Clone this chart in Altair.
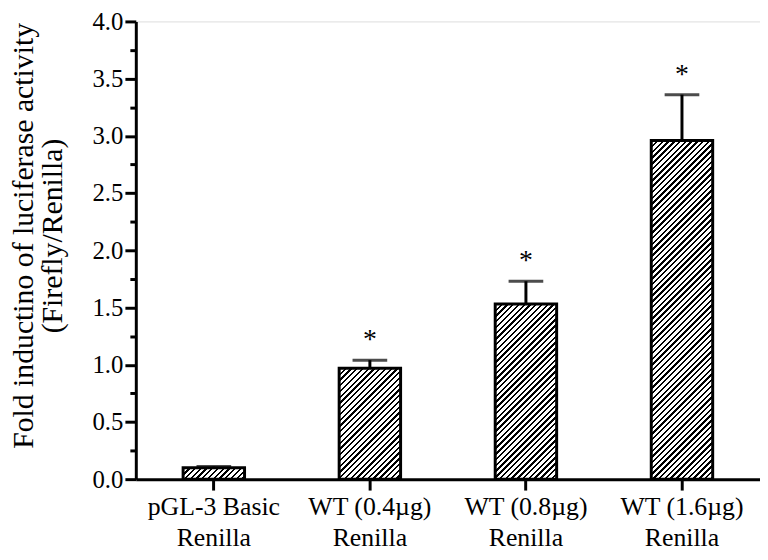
import altair as alt

# ---- data ----
line1 = ["pGL-3 Basic", "WT (0.4\u00b5g)", "WT (0.8\u00b5g)", "WT (1.6\u00b5g)"]
means = [0.10, 0.97, 1.53, 2.96]
uppers = [0.11, 1.04, 1.73, 3.36]
marks = ["", "*", "*", "*"]
y_major = [0.0, 0.5, 1.0, 1.5, 2.0, 2.5, 3.0, 3.5, 4.0]
y_minor = [0.25, 0.75, 1.25, 1.75, 2.25, 2.75, 3.25, 3.75]

# ---- layout / style ----
PLOT_W, PLOT_H = 630, 462
Y_MAX = 4.0
BAR_W = 62
PERIOD = 5.8      # hatch period (px, along x+y)
INK = 0.42        # fraction of period that is black
FONT = "Liberation Serif"


def hatch(value):
    """Diagonal '/' hatch as a hard-stop linear gradient sized to the bar."""
    w = float(BAR_W)
    h = max(value / Y_MAX * PLOT_H, 1.0)
    r = h / w
    k = (1 + r) / (1 + r * r)
    total = w + h
    stops = []
    n = 0
    while n * PERIOD < total:
        a = n * PERIOD / total
        b = min((n * PERIOD + INK * PERIOD) / total, 1.0)
        stops += [
            {"offset": a, "color": "#ffffff"},
            {"offset": a, "color": "#000000"},
            {"offset": b, "color": "#000000"},
            {"offset": b, "color": "#ffffff"},
        ]
        n += 1
    stops.append({"offset": 1.0, "color": "#ffffff"})
    return {"gradient": "linear", "x1": 0, "y1": 0, "x2": k, "y2": k * r, "stops": stops}


records = [
    {"cat": c, "mean": m, "upper": u, "mark": s, "grad": hatch(m)}
    for c, m, u, s in zip(line1, means, uppers, marks)
]
data = alt.Data(values=records)

x_axis = alt.Axis(
    title=None,
    labelAngle=0,
    labelExpr="[datum.label, 'Renilla']",
    labelFont=FONT,
    labelFontSize=26,
    labelLineHeight=31,
    labelColor="black",
    labelPadding=4,
    tickSize=11,
    tickWidth=3,
    tickColor="black",
    domainWidth=3,
    domainColor="black",
    grid=False,
)
x_enc = alt.X(
    "cat:N",
    sort=line1,
    axis=x_axis,
    scale=alt.Scale(paddingInner=0, paddingOuter=0),
)
y_scale = alt.Scale(domain=[0, Y_MAX], nice=False, zero=True)

bars = alt.Chart(data).mark_bar(
    size=BAR_W, stroke="black", strokeWidth=3, strokeJoin="miter"
).encode(
    x=x_enc,
    y=alt.Y(
        "mean:Q",
        scale=y_scale,
        axis=alt.Axis(
            values=y_major,
            format=".1f",
            orient="left",
            title=["Fold inductino of luciferase activity", "(Firefly/Renilla)"],
            titleFont=FONT,
            titleFontSize=30,
            titleFontWeight="normal",
            titleColor="black",
            titleLineHeight=29,
            titleBaseline="middle",
            titleX=-113,
            titleY=216,
            labelFont=FONT,
            labelFontSize=25,
            labelColor="black",
            labelPadding=2,
            tickSize=11,
            tickWidth=3,
            tickColor="black",
            domainWidth=3,
            domainColor="black",
            grid=False,
        ),
    ),
    fill=alt.Fill("grad:N", scale=None),
)

err = alt.Chart(data).mark_rule(color="black", strokeWidth=3).encode(
    x=x_enc,
    y=alt.Y(
        "mean:Q",
        scale=y_scale,
        axis=alt.Axis(
            values=y_minor,
            orient="left",
            labels=False,
            domain=False,
            title=None,
            tickSize=6,
            tickWidth=3,
            tickColor="black",
            grid=False,
        ),
    ),
    y2="upper:Q",
)

cap = alt.Chart(data).mark_tick(color="black", thickness=3, size=35).encode(
    x=x_enc,
    y=alt.Y("upper:Q", scale=y_scale, axis=None),
)

star = alt.Chart(data).mark_text(
    font=FONT, fontSize=28, baseline="middle", dy=-20, color="black"
).encode(
    x=x_enc,
    y=alt.Y("upper:Q", scale=y_scale, axis=None),
    text="mark:N",
)

chart = (
    alt.layer(bars, err, cap, star)
    .resolve_axis(y="independent")
    .properties(
        width=PLOT_W,
        height=PLOT_H,
        padding={"left": 129, "top": 11, "right": 0, "bottom": 75},
        autosize=alt.AutoSizeParams(type="none"),
    )
    .configure_view(stroke=None)
    .configure(background="white")
)

chart.save("out.html", embed_options={"renderer": "svg", "actions": False})
